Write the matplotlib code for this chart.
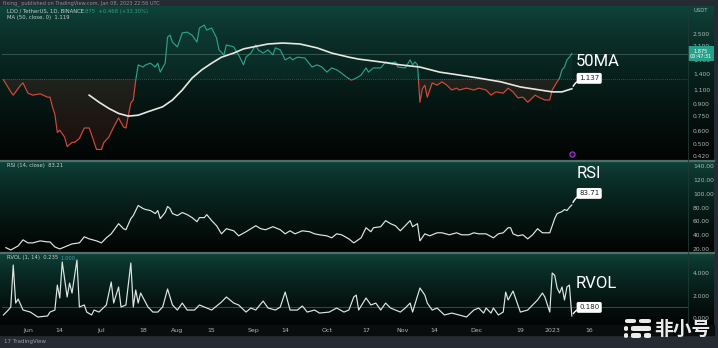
#!/usr/bin/env python3
"""LDO / USDT daily chart in TradingView dark style.

Three panes: baseline price with 50-day MA, RSI(14), relative volume.
Values were read off a screenshot, so they are approximate.
"""

import numpy as np
import pandas as pd
import matplotlib
matplotlib.use('Agg')
import matplotlib.pyplot as plt
import matplotlib.dates as mdates
import matplotlib.transforms as mtransforms
from matplotlib.colors import to_rgb
from matplotlib.lines import Line2D
from matplotlib.patches import Rectangle, FancyBboxPatch
from matplotlib.ticker import FixedLocator, FormatStrFormatter, NullLocator

W, H = 718, 348

# ---------------------------------------------------------------- data
# dates are 'MM-DD'; Jan/Feb belong to 2023, the rest to 2022

PRICE_DATES = [
    '05-22', '05-25', '05-26', '05-29', '05-30', '06-01', '06-03', '06-06', '06-09', '06-10',
    '06-11', '06-12', '06-13', '06-14', '06-16', '06-17', '06-19', '06-20', '06-22', '06-24',
    '06-26', '06-27', '06-29', '07-01', '07-02', '07-04', '07-06', '07-08', '07-10', '07-11',
    '07-13', '07-14', '07-15', '07-16', '07-18', '07-19', '07-21', '07-23', '07-24', '07-25',
    '07-27', '07-28', '07-29', '07-30', '08-01', '08-03', '08-05', '08-07', '08-09', '08-10',
    '08-12', '08-13', '08-15', '08-17', '08-18', '08-20', '08-21', '08-24', '08-26', '08-28',
    '08-29', '08-31', '09-02', '09-03', '09-05', '09-07', '09-09', '09-10', '09-12', '09-14',
    '09-16', '09-17', '09-19', '09-22', '09-25', '09-27', '09-29', '10-01', '10-03', '10-05',
    '10-07', '10-09', '10-11', '10-13', '10-15', '10-17', '10-18', '10-20', '10-23', '10-25',
    '10-27', '10-29', '10-30', '11-02', '11-04', '11-05', '11-06', '11-07', '11-08', '11-09',
    '11-10', '11-11', '11-13', '11-15', '11-17', '11-19', '11-21', '11-23', '11-24', '11-27',
    '11-30', '12-02', '12-05', '12-07', '12-09', '12-12', '12-14', '12-16', '12-18', '12-20',
    '12-22', '12-23', '12-25', '12-27', '12-29', '12-31', '01-01', '01-03', '01-04', '01-05',
    '01-06', '01-07', '01-08', '01-09',
]
PRICE = [
    1.28, 1.07, 1.02, 1.18, 1.22, 1.05, 1.02, 1.04, 0.99, 0.99,
    0.86, 0.77, 0.59, 0.61, 0.55, 0.48, 0.51, 0.51, 0.54, 0.63,
    0.63, 0.57, 0.46, 0.46, 0.51, 0.55, 0.64, 0.73, 0.64, 0.63,
    0.91, 0.95, 1.27, 1.59, 1.54, 1.59, 1.63, 1.54, 1.63, 1.43,
    1.63, 2.39, 2.46, 2.22, 2.07, 2.54, 2.57, 2.46, 2.22, 2.73,
    2.85, 2.65, 2.73, 2.36, 1.98, 1.84, 2.13, 2.07, 1.84, 1.59,
    1.78, 1.89, 2.13, 1.98, 1.89, 1.98, 1.84, 2.04, 1.98, 1.71,
    1.78, 1.71, 1.78, 1.76, 1.54, 1.59, 1.54, 1.43, 1.52, 1.48,
    1.41, 1.33, 1.27, 1.31, 1.37, 1.52, 1.43, 1.52, 1.52, 1.66,
    1.63, 1.66, 1.54, 1.52, 1.71, 1.59, 1.66, 1.59, 0.92, 1.12,
    1.18, 0.99, 1.22, 1.18, 1.24, 1.18, 1.10, 1.13, 1.10, 1.13,
    1.10, 1.13, 1.10, 1.02, 1.07, 1.05, 1.13, 1.07, 0.98, 0.99,
    0.92, 0.95, 1.02, 0.98, 0.95, 0.95, 1.10, 1.24, 1.31, 1.48,
    1.54, 1.71, 1.78, 1.875,
]
BASELINE = 1.30          # baseline level of the price series
LAST_PRICE_LINE = 1.875

MA_DATES = [
    '06-26', '06-30', '07-04', '07-08', '07-12', '07-16', '07-20', '07-26', '07-30', '08-03',
    '08-07', '08-11', '08-15', '08-19', '08-24', '08-28', '09-01', '09-07', '09-13', '09-20',
    '09-27', '10-03', '10-10', '10-14', '10-23', '10-31', '11-08', '11-16', '11-24', '12-02',
    '12-11', '12-19', '12-27', '01-01', '01-05', '01-09',
]
MA50 = [
    1.02, 0.92, 0.84, 0.78, 0.75, 0.76, 0.80, 0.86, 0.95, 1.10,
    1.31, 1.48, 1.63, 1.78, 1.89, 2.01, 2.07, 2.16, 2.19, 2.16,
    2.04, 1.89, 1.78, 1.73, 1.66, 1.59, 1.54, 1.43, 1.37, 1.31,
    1.24, 1.15, 1.10, 1.07, 1.07, 1.12,
]

RSI_DATES = [
    '05-23', '05-25', '05-28', '05-30', '06-01', '06-03', '06-06', '06-09', '06-10', '06-12',
    '06-14', '06-16', '06-17', '06-19', '06-22', '06-24', '06-26', '06-29', '07-01', '07-03',
    '07-05', '07-08', '07-10', '07-11', '07-13', '07-14', '07-15', '07-16', '07-18', '07-19',
    '07-21', '07-23', '07-24', '07-25', '07-27', '07-28', '07-29', '07-30', '08-01', '08-03',
    '08-05', '08-07', '08-09', '08-10', '08-12', '08-13', '08-15', '08-17', '08-19', '08-21',
    '08-24', '08-26', '08-29', '09-02', '09-04', '09-06', '09-09', '09-12', '09-14', '09-16',
    '09-18', '09-21', '09-24', '09-26', '09-28', '10-01', '10-03', '10-05', '10-07', '10-10',
    '10-12', '10-15', '10-17', '10-19', '10-20', '10-23', '10-25', '10-27', '10-29', '10-31',
    '11-02', '11-04', '11-05', '11-07', '11-08', '11-10', '11-12', '11-15', '11-17', '11-20',
    '11-23', '11-25', '11-28', '11-30', '12-02', '12-05', '12-08', '12-10', '12-12', '12-14',
    '12-15', '12-16', '12-18', '12-20', '12-22', '12-24', '12-26', '12-28', '12-30', '12-31',
    '01-01', '01-02', '01-03', '01-05', '01-06', '01-07', '01-08', '01-09',
]
RSI = [
    21.9, 18.5, 24.4, 33.2, 28.8, 28.8, 31.7, 30.2, 30.2, 22.9,
    20.0, 22.9, 24.4, 27.3, 28.8, 37.6, 34.6, 31.7, 28.8, 36.1,
    41.9, 56.6, 49.3, 47.8, 63.9, 68.3, 75.6, 82.9, 78.5, 77.1,
    75.6, 71.2, 75.6, 63.9, 72.7, 81.4, 78.5, 71.2, 68.3, 72.7,
    69.7, 65.4, 59.5, 65.4, 65.4, 69.7, 61.0, 53.6, 41.9, 49.3,
    46.3, 39.0, 44.9, 53.6, 49.3, 47.8, 52.2, 47.8, 41.9, 46.3,
    41.9, 46.3, 44.9, 41.9, 40.5, 39.0, 36.1, 41.9, 40.5, 34.6,
    28.8, 36.1, 50.7, 44.9, 50.7, 52.2, 61.0, 56.6, 53.6, 46.3,
    53.6, 61.0, 52.2, 56.6, 31.7, 41.9, 39.0, 43.4, 43.4, 40.5,
    43.4, 40.5, 40.5, 43.4, 41.9, 41.9, 36.1, 41.9, 43.4, 50.7,
    50.7, 41.9, 39.0, 40.5, 34.6, 40.5, 49.3, 43.4, 43.4, 43.4,
    53.6, 63.9, 71.2, 74.1, 77.1, 75.6, 80.0, 83.71,
]

RVOL_DATES = [
    '05-22', '05-24', '05-25', '05-26', '05-27', '05-28', '05-30', '06-02', '06-05', '06-09',
    '06-10', '06-12', '06-13', '06-14', '06-15', '06-17', '06-18', '06-19', '06-21', '06-22',
    '06-24', '06-25', '06-27', '06-28', '06-30', '07-03', '07-05', '07-06', '07-08', '07-09',
    '07-11', '07-13', '07-14', '07-15', '07-16', '07-17', '07-20', '07-22', '07-24', '07-26',
    '07-28', '07-30', '08-01', '08-03', '08-05', '08-08', '08-10', '08-13', '08-15', '08-19',
    '08-21', '08-24', '08-26', '08-29', '08-31', '09-02', '09-03', '09-05', '09-07', '09-10',
    '09-12', '09-14', '09-16', '09-19', '09-21', '09-23', '09-26', '09-28', '10-02', '10-05',
    '10-08', '10-10', '10-12', '10-13', '10-14', '10-17', '10-19', '10-21', '10-23', '10-25',
    '10-27', '10-31', '11-02', '11-04', '11-05', '11-08', '11-10', '11-11', '11-13', '11-15',
    '11-18', '11-21', '11-24', '11-27', '11-30', '12-02', '12-04', '12-05', '12-07', '12-08',
    '12-10', '12-12', '12-13', '12-14', '12-16', '12-19', '12-22', '12-24', '12-26', '12-28',
    '12-29', '12-31', '01-01', '01-02', '01-03', '01-04', '01-05', '01-06', '01-07', '01-08',
    '01-09',
]
RVOL = [
    0.27, 0.71, 0.98, 4.71, 1.33, 1.69, 0.71, 0.53, 0.09, 0.18,
    0.53, 0.71, 2.93, 1.78, 4.98, 1.87, 3.11, 2.22, 5.16, 0.98,
    1.16, 0.53, 0.27, 0.71, 0.53, 1.16, 3.20, 1.33, 2.76, 0.98,
    1.16, 4.89, 0.98, 2.49, 1.33, 2.22, 0.98, 0.53, 0.53, 0.98,
    2.58, 1.16, 0.71, 1.33, 0.71, 0.71, 1.16, 0.89, 0.71, 1.42,
    1.87, 1.33, 1.16, 0.53, 0.89, 0.71, 0.98, 1.51, 0.89, 0.71,
    0.98, 2.31, 0.71, 0.71, 1.07, 0.53, 0.71, 0.44, 0.53, 0.89,
    0.53, 0.71, 1.87, 2.04, 0.71, 1.78, 1.16, 1.33, 0.71, 1.33,
    0.89, 0.53, 0.89, 1.33, 0.53, 2.67, 2.04, 1.33, 0.71, 0.89,
    0.27, 0.44, 0.27, 0.09, 0.71, 0.89, 0.44, 0.89, 0.44, 0.89,
    0.27, 0.53, 2.31, 1.60, 2.40, 0.53, 0.71, 1.16, 1.60, 2.22,
    1.87, 0.53, 4.00, 3.80, 2.67, 2.22, 2.76, 1.60, 2.76, 2.93,
    0.18,
]
RVOL_REF = 1.0

PRICE_TICKS = [0.42, 0.5, 0.6, 0.75, 0.9, 1.1, 1.4, 1.7, 2.1, 2.5]
RSI_TICKS = [20, 40, 60, 80, 100, 120, 140]
RVOL_TICKS = [0, 2, 4]
X_TICKS = ['06-01', '06-14', '07-01', '07-18', '08-01', '08-15', '09-01', '09-14',
           '10-01', '10-17', '11-01', '11-14', '12-01', '12-19', '01-01', '01-16']
X_LABELS = ['Jun', '14', 'Jul', '18', 'Aug', '15', 'Sep', '14',
            'Oct', '17', 'Nov', '14', 'Dec', '19', '2023', '16']

# ---------------------------------------------------------------- style

FRAME = '#262a33'
PANE_TOP = '#0f463c'
PANE_BOTTOM = '#020403'
GREEN = '#2fa08a'
RED = '#d24a3c'
LINE = '#dfe7e4'
TICK = '#aeb8b4'
SEP = '#4f6e66'


def to_num(mmdd):
    """'MM-DD' -> matplotlib date number (Jan/Feb are 2023)."""
    out = []
    for s in mmdd:
        m = int(s[:2])
        year = 2023 if m <= 2 else 2022
        out.append(pd.Timestamp(f"{year}-{s}"))
    return mdates.date2num(out)


def fx(px):
    return px / W


def fy(py):
    return 1 - py / H


def pane_bg(fig, top, bottom):
    ax = fig.add_axes([0, fy(bottom), fx(714), (bottom - top) / H], zorder=0)
    t = np.linspace(0, 1, 256) ** 0.7
    grad = (1 - t)[:, None] * np.array(to_rgb(PANE_TOP)) + t[:, None] * np.array(to_rgb(PANE_BOTTOM))
    ax.imshow(grad[:, None, :], aspect='auto', extent=[0, 1, 0, 1])
    ax.set_axis_off()


def data_axes(fig, top, bottom):
    ax = fig.add_axes([fx(2), fy(bottom), fx(686), (bottom - top) / H], zorder=2)
    ax.set_facecolor('none')
    for s in ax.spines.values():
        s.set_visible(False)
    ax.yaxis.tick_right()
    ax.tick_params(axis='y', length=0, pad=3.5, labelsize=4.3, labelcolor=TICK)
    ax.tick_params(axis='x', length=0, pad=2, labelsize=4.5, labelcolor=TICK)
    return ax


def value_box(ax, text, x, y, dx, dy):
    ax.annotate(text, xy=(x, y), xytext=(dx, dy), textcoords='offset points',
                fontsize=5, color='#202020', ha='center', va='center',
                bbox=dict(boxstyle='round,pad=0.35,rounding_size=0.25', fc='white', ec='none'),
                arrowprops=dict(arrowstyle='-', color='white', lw=1.0, shrinkA=0,
                                connectionstyle='arc3,rad=0.35'),
                annotation_clip=False, zorder=6)


def main():
    fig = plt.figure(figsize=(W / 100, H / 100), dpi=100, facecolor=FRAME)

    # dark strip behind the date labels
    fig.patches.append(Rectangle((0, fy(335)), fx(714), 10 / H, transform=fig.transFigure,
                                 color='#0a0d0d', zorder=0))

    panes = [(6, 160), (161, 252), (253, 325)]
    for top, bottom in panes:
        pane_bg(fig, top, bottom)
    ax_p, ax_r, ax_v = [data_axes(fig, t, b) for t, b in panes]

    xlim = (mdates.date2num(pd.Timestamp('2022-05-21 10:00')),
            mdates.date2num(pd.Timestamp('2023-02-25 10:00')))

    # ---- price pane
    xp = to_num(PRICE_DATES)
    ax_p.set_yscale('log')
    ax_p.set_ylim(0.394, 3.77)
    ax_p.set_xlim(xlim)
    above = Rectangle((xlim[0], BASELINE), xlim[1] - xlim[0], 100, transform=ax_p.transData)
    below = Rectangle((xlim[0], 0.01), xlim[1] - xlim[0], BASELINE - 0.01, transform=ax_p.transData)
    for color, clip, alpha in ((GREEN, above, 0.07), (RED, below, 0.12)):
        f = ax_p.fill_between(xp, PRICE, BASELINE, color=color, alpha=alpha, lw=0, zorder=2)
        f.set_clip_path(clip)
        ln, = ax_p.plot(xp, PRICE, color=color, lw=0.85, zorder=3)
        ln.set_clip_path(clip)
    ax_p.axhline(BASELINE, color='#8aa39c', lw=0.5, ls=(0, (1, 2)), alpha=0.7, zorder=1)
    ax_p.axhline(LAST_PRICE_LINE, color='#6f8f88', lw=0.5, alpha=0.6, zorder=1)

    xm = to_num(MA_DATES)
    ax_p.plot(xm, MA50, color='#e8e8e0', lw=1.2, zorder=4)
    value_box(ax_p, '1.137', xm[-1], MA50[-1], 12.5, 7.5)

    ax_p.yaxis.set_major_locator(FixedLocator(PRICE_TICKS))
    ax_p.yaxis.set_major_formatter(FormatStrFormatter('%.3f'))
    ax_p.yaxis.set_minor_locator(NullLocator())
    ax_p.set_xticks([])

    # current price tag on the scale
    blend = mtransforms.blended_transform_factory(ax_p.transAxes, ax_p.transData)
    ax_p.text(1.0 + fx(13) / fx(686), PRICE[-1], f'{PRICE[-1]:.3f}\n00:47:31', transform=blend,
              fontsize=3.6, color='white', ha='center', va='center', linespacing=1.0,
              bbox=dict(boxstyle='square,pad=0.45', fc='#26a08b', ec='none'),
              clip_on=False, zorder=7)

    # purple event marker near the bottom of the price pane
    blend_x = mtransforms.blended_transform_factory(ax_p.transData, ax_p.transAxes)
    ax_p.scatter([xp[-1]], [0.04], transform=blend_x, s=14, facecolor='#2a1038',
                 edgecolor='#9c3cc8', lw=0.8, zorder=5, clip_on=False)

    # ---- RSI pane
    xr = to_num(RSI_DATES)
    ax_r.plot(xr, RSI, color=LINE, lw=0.85, zorder=3)
    ax_r.set_xlim(xlim)
    ax_r.set_ylim(15.6, 147.3)
    ax_r.set_yticks(RSI_TICKS)
    ax_r.yaxis.set_major_formatter(FormatStrFormatter('%.2f'))
    ax_r.set_xticks([])
    value_box(ax_r, f'{RSI[-1]:.2f}', xr[-1], RSI[-1], 12.5, 8.3)

    # ---- RVOL pane
    xv = to_num(RVOL_DATES)
    ax_v.axhline(RVOL_REF, color='#7f8f8a', lw=0.5, alpha=0.6, zorder=1)
    ax_v.plot(xv, RVOL, color=LINE, lw=0.85, zorder=3)
    ax_v.set_xlim(xlim)
    ax_v.set_ylim(-0.62, 5.78)
    ax_v.set_yticks(RVOL_TICKS)
    ax_v.yaxis.set_major_formatter(FormatStrFormatter('%.3f'))
    ax_v.set_xticks(to_num(X_TICKS))
    ax_v.set_xticklabels(X_LABELS)
    value_box(ax_v, f'{RVOL[-1]:.3f}', xv[-1], RVOL[-1], 12.5, 6.2)

    # ---- pane separators and scale border
    for py in (160.5, 252.5):
        fig.add_artist(Line2D([0, fx(714)], [fy(py), fy(py)], color=SEP, lw=1.6, zorder=5))
    fig.add_artist(Line2D([fx(688), fx(688)], [fy(6), fy(325)], color='#1d3a34', lw=0.6, zorder=5))

    # ---- legends and captions
    small = dict(fontsize=3.8, color='#c5cecb', va='center', zorder=8)
    fig.text(fx(3), fy(3), 'fixing_ published on TradingView.com, Jan 08, 2023 22:56 UTC',
             fontsize=3.6, color='#8c919b', va='center')
    fig.text(fx(7), fy(11), 'LDO / TetherUS, 1D, BINANCE', **small)
    fig.text(fx(80), fy(11), '1.875  +0.468 (+33.30%)', fontsize=3.8, color='#2fa08a', va='center')
    fig.text(fx(7), fy(17), 'MA (50, close, 0)  1.119', **small)
    fig.text(fx(7), fy(166), 'RSI (14, close)  83.21', **small)
    fig.text(fx(7), fy(258), 'RVOL (1, 14)  0.235', **small)
    fig.text(fx(60), fy(258), '1.000', fontsize=3.8, color='#3aa0b0', va='center')
    fig.text(fx(701), fy(10), 'USDT', fontsize=3.8, color=TICK, ha='center', va='center')
    fig.text(fx(4), fy(341), '17 TradingView', fontsize=4, color='#9aa0aa', va='center')

    big = dict(fontsize=12, color='white', va='center', ha='left', zorder=8,
               family=['Liberation Sans Narrow', 'Roboto', 'DejaVu Sans'])
    fig.text(fx(576), fy(61), '50MA', **big)
    fig.text(fx(577), fy(174), 'RSI', **big)
    fig.text(fx(576), fy(283), 'RVOL', **big)

    # ---- watermark
    icon = [(625, 319, 11, 4), (639, 319, 12, 4),
            (624, 326, 4, 5), (631, 326, 20, 5),
            (624, 333, 4, 5), (631, 333, 10, 5), (644, 333, 7, 5)]
    for x0, y0, w, h in icon:
        fig.patches.append(FancyBboxPatch((fx(x0), fy(y0 + h)), fx(w), h / H,
                                          boxstyle='round,pad=0,rounding_size=0.004',
                                          transform=fig.transFigure, fc='white', ec='none',
                                          alpha=0.92, zorder=9))
    fig.text(fx(654), fy(329), '非小号', fontsize=13.5, fontweight='bold', color='white',
             alpha=0.92, va='center', ha='left', family=['Noto Sans CJK SC', 'DejaVu Sans'],
             zorder=9)

    fig.savefig('out.png', dpi=100, facecolor=FRAME)


if __name__ == '__main__':
    main()
